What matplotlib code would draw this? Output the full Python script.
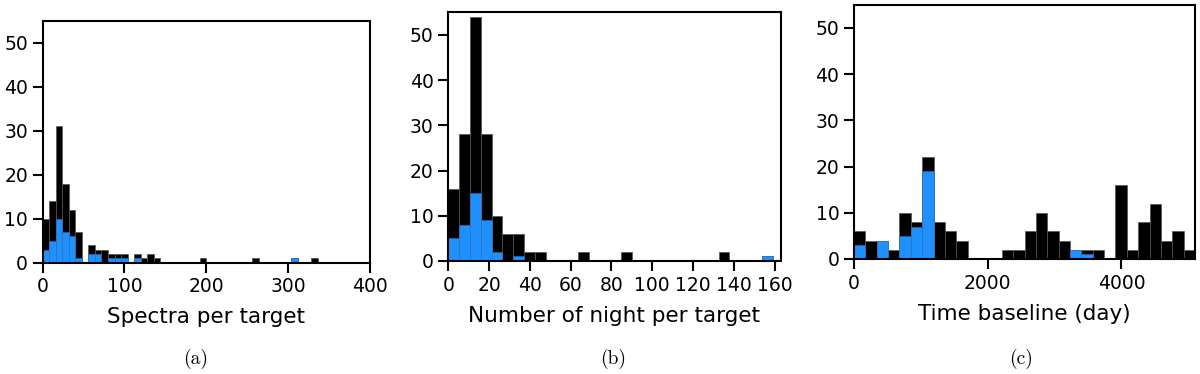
import numpy as np
import matplotlib
matplotlib.use("Agg")
import matplotlib.pyplot as plt

# ---------------- data (counts per bin) ----------------
# (a) Spectra per target: bins of width 8 from 0 to 336
spectra_edges = np.arange(0, 337, 8)
spectra_all = [10, 14, 31, 18, 12, 7, 0, 4, 3, 3, 2, 2, 2, 0, 2, 1, 2, 1,
               0, 0, 0, 0, 0, 0, 1, 0, 0, 0, 0, 0, 0, 0, 1, 0, 0, 0, 0, 0,
               1, 0, 0, 1]
spectra_sub = [3, 5, 10, 7, 6, 1, 0, 2, 2, 0, 1, 1, 1, 0, 1, 0, 0, 0,
               0, 0, 0, 0, 0, 0, 0, 0, 0, 0, 0, 0, 0, 0, 0, 0, 0, 0, 0, 0,
               1, 0, 0, 0]

# (b) Number of nights per target: 30 bins from 0 to 159
nights_edges = np.linspace(0, 159, 31)
nights_all = [16, 28, 54, 28, 10, 6, 6, 2, 2, 0, 0, 0, 2, 0, 0, 0, 2, 0,
              0, 0, 0, 0, 0, 0, 0, 2, 0, 0, 0, 1]
nights_sub = [5, 8, 15, 9, 2, 0, 1, 0, 0, 0, 0, 0, 0, 0, 0, 0, 0, 0,
              0, 0, 0, 0, 0, 0, 0, 0, 0, 0, 0, 1]

# (c) Time baseline (day): 30 bins from 0 to 5100
base_edges = np.linspace(0, 5100, 31)
base_all = [6, 4, 4, 2, 10, 8, 22, 8, 6, 4, 0, 0, 0, 2, 2, 6, 10, 6,
            4, 2, 2, 2, 0, 16, 2, 8, 12, 4, 6, 2]
base_sub = [3, 0, 4, 0, 5, 7, 19, 0, 0, 0, 0, 0, 0, 0, 0, 0, 0, 0,
            0, 2, 1, 0, 0, 0, 0, 0, 0, 0, 0, 0]

xlabels = ["Spectra per target", "Number of night per target", "Time baseline (day)"]
captions = ["(a)", "(b)", "(c)"]
xticks = [[0, 100, 200, 300, 400], list(range(0, 161, 20)), [0, 2000, 4000]]
xlims = [(0, 400), (0, 163), (0, 5100)]
yticks = [0, 10, 20, 30, 40, 50]

BLUE = "#1E90FF"

W, H = 1200, 374
fig = plt.figure(figsize=(W / 100, H / 100), dpi=100)

# pixel boxes: left, right, top, bottom
boxes = [(42.5, 370, 20.7, 262.7), (448.3, 780.7, 12.3, 261), (854, 1195, 4.7, 259)]
caption_x = [196, 613, 1021]

datasets = [(spectra_edges, spectra_all, spectra_sub),
            (nights_edges, nights_all, nights_sub),
            (base_edges, base_all, base_sub)]

for i, ((edges, allc, subc), (l, r, t, b)) in enumerate(zip(datasets, boxes)):
    ax = fig.add_axes([l / W, 1 - b / H, (r - l) / W, (b - t) / H])
    centers = 0.5 * (edges[:-1] + edges[1:])
    ax.hist(centers, bins=edges, weights=allc, color="black",
            edgecolor="#555555", linewidth=0.5)
    ax.hist(centers, bins=edges, weights=subc, color=BLUE,
            edgecolor="#3a6fa8", linewidth=0.4)
    ax.set_xlim(*xlims[i])
    ax.set_ylim(0, 55)
    ax.set_xticks(xticks[i])
    ax.set_yticks(yticks)
    ax.tick_params(axis="both", labelsize=13.5, length=7, width=1.5,
                   direction="out", pad=3.5)
    for sp in ax.spines.values():
        sp.set_linewidth(1.5)
    ax.set_xlabel(xlabels[i], fontsize=15.5, labelpad=8)
    fig.text(caption_x[i] / W, 1 - 359 / H, captions[i], ha="center", va="center",
             fontsize=14, family="cmr10")

fig.savefig("out.png", dpi=100)
